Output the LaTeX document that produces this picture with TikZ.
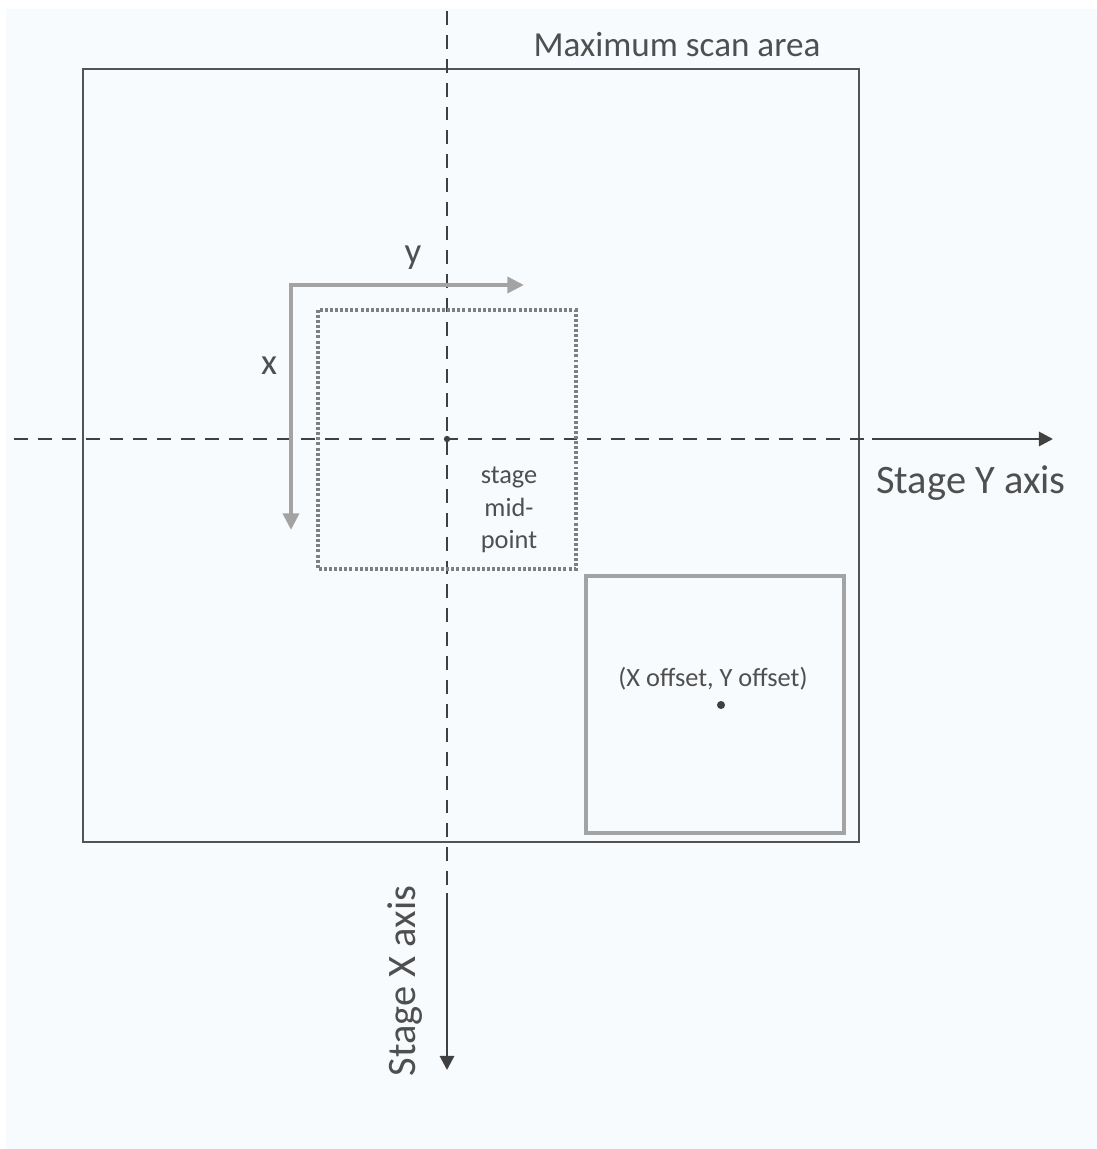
\documentclass[tikz,border=0pt]{standalone}
\usepackage{fontspec}
\setmainfont{Carlito}
\usetikzlibrary{arrows.meta, positioning, calc}
\definecolor{bgblue}{HTML}{F7FBFD}
\definecolor{axisgray}{HTML}{404040}
\definecolor{textgray}{HTML}{4F4F4F}
\definecolor{softgray}{HTML}{A3A3A3}
\definecolor{dotgray}{HTML}{7F7F7F}

\begin{document}
\begin{tikzpicture}[x=0.02cm, y=-0.02cm,
    dashline/.style={axisgray, line width=1.6pt, dash pattern=on 7.9pt off 5.7pt},
    stagearrow/.style={axisgray, line width=1.6pt, -{Triangle[length=8pt,width=8pt]}},
    grayarrow/.style={softgray, line width=2.7pt, {Triangle[length=9.5pt,width=9pt]}-{Triangle[length=9.5pt,width=9pt]}},
    lbl/.style={text=textgray, inner sep=0pt}]
\useasboundingbox (0,0) rectangle (1097,1149);
\fill[bgblue] (6,9) rectangle (1097,1149);

% Maximum scan area
\draw[axisgray!90, line width=0.8pt] (83,69) rectangle (859,842);
\node[lbl, font=\fontsize{20}{24}\selectfont] (maxarea) at (677,45) {Maximum scan area};

% Stage axes
\coordinate (mid) at (447,439);
\coordinate (hstart) at (14,439);
\coordinate (hend) at (866,439);
\coordinate (ystart) at (872,439);
\coordinate (ytip) at (1053,439);
\coordinate (vstart) at (447,11);
\coordinate (vend) at (447,887);
\coordinate (xstart) at (447,893);
\coordinate (xtip) at (447,1070);
\draw[dashline] (hstart) -- (hend);
\draw[stagearrow] (ystart) -- (ytip);
\draw[dashline] (vstart) -- (vend);
\draw[stagearrow] (xstart) -- (xtip);
\node[lbl, font=\fontsize{23}{27}\selectfont] (yaxis) at (971,483) {Stage Y axis};
\node[lbl, font=\fontsize{23}{27}\selectfont, rotate=90] (xaxis) at (405,981) {Stage X axis};

% Scan field around the mid-point
\draw[dotgray, line width=2pt, dash pattern=on 1.7pt off 1.2pt] (318,310) rectangle (576,569);
\fill[axisgray] (mid) circle (1.8pt);
\node[lbl, align=center, font=\fontsize{15}{18.5}\selectfont] (midlbl) at (509,510) {stage\\mid-\\point};

% Local x/y directions
\coordinate (corner) at (291,285);
\coordinate (ydir) at (524,285);
\coordinate (xdir) at (291,530);
\draw[grayarrow] (ydir) -- (corner) -- (xdir);
\node[lbl, font=\fontsize{21}{25}\selectfont] (ylbl) at (413,258) {y};
\node[lbl, font=\fontsize{21}{25}\selectfont] (xlbl) at (269,366) {x};

% Offset field
\draw[softgray, line width=2.5pt] (586,576) rectangle (844,833);
\coordinate (offset) at (721,705);
\fill[axisgray] (offset) circle (2.3pt);
\node[lbl, font=\fontsize{15}{18}\selectfont] (offlbl) at (713,679) {(X offset, Y offset)};
\end{tikzpicture}
\end{document}
